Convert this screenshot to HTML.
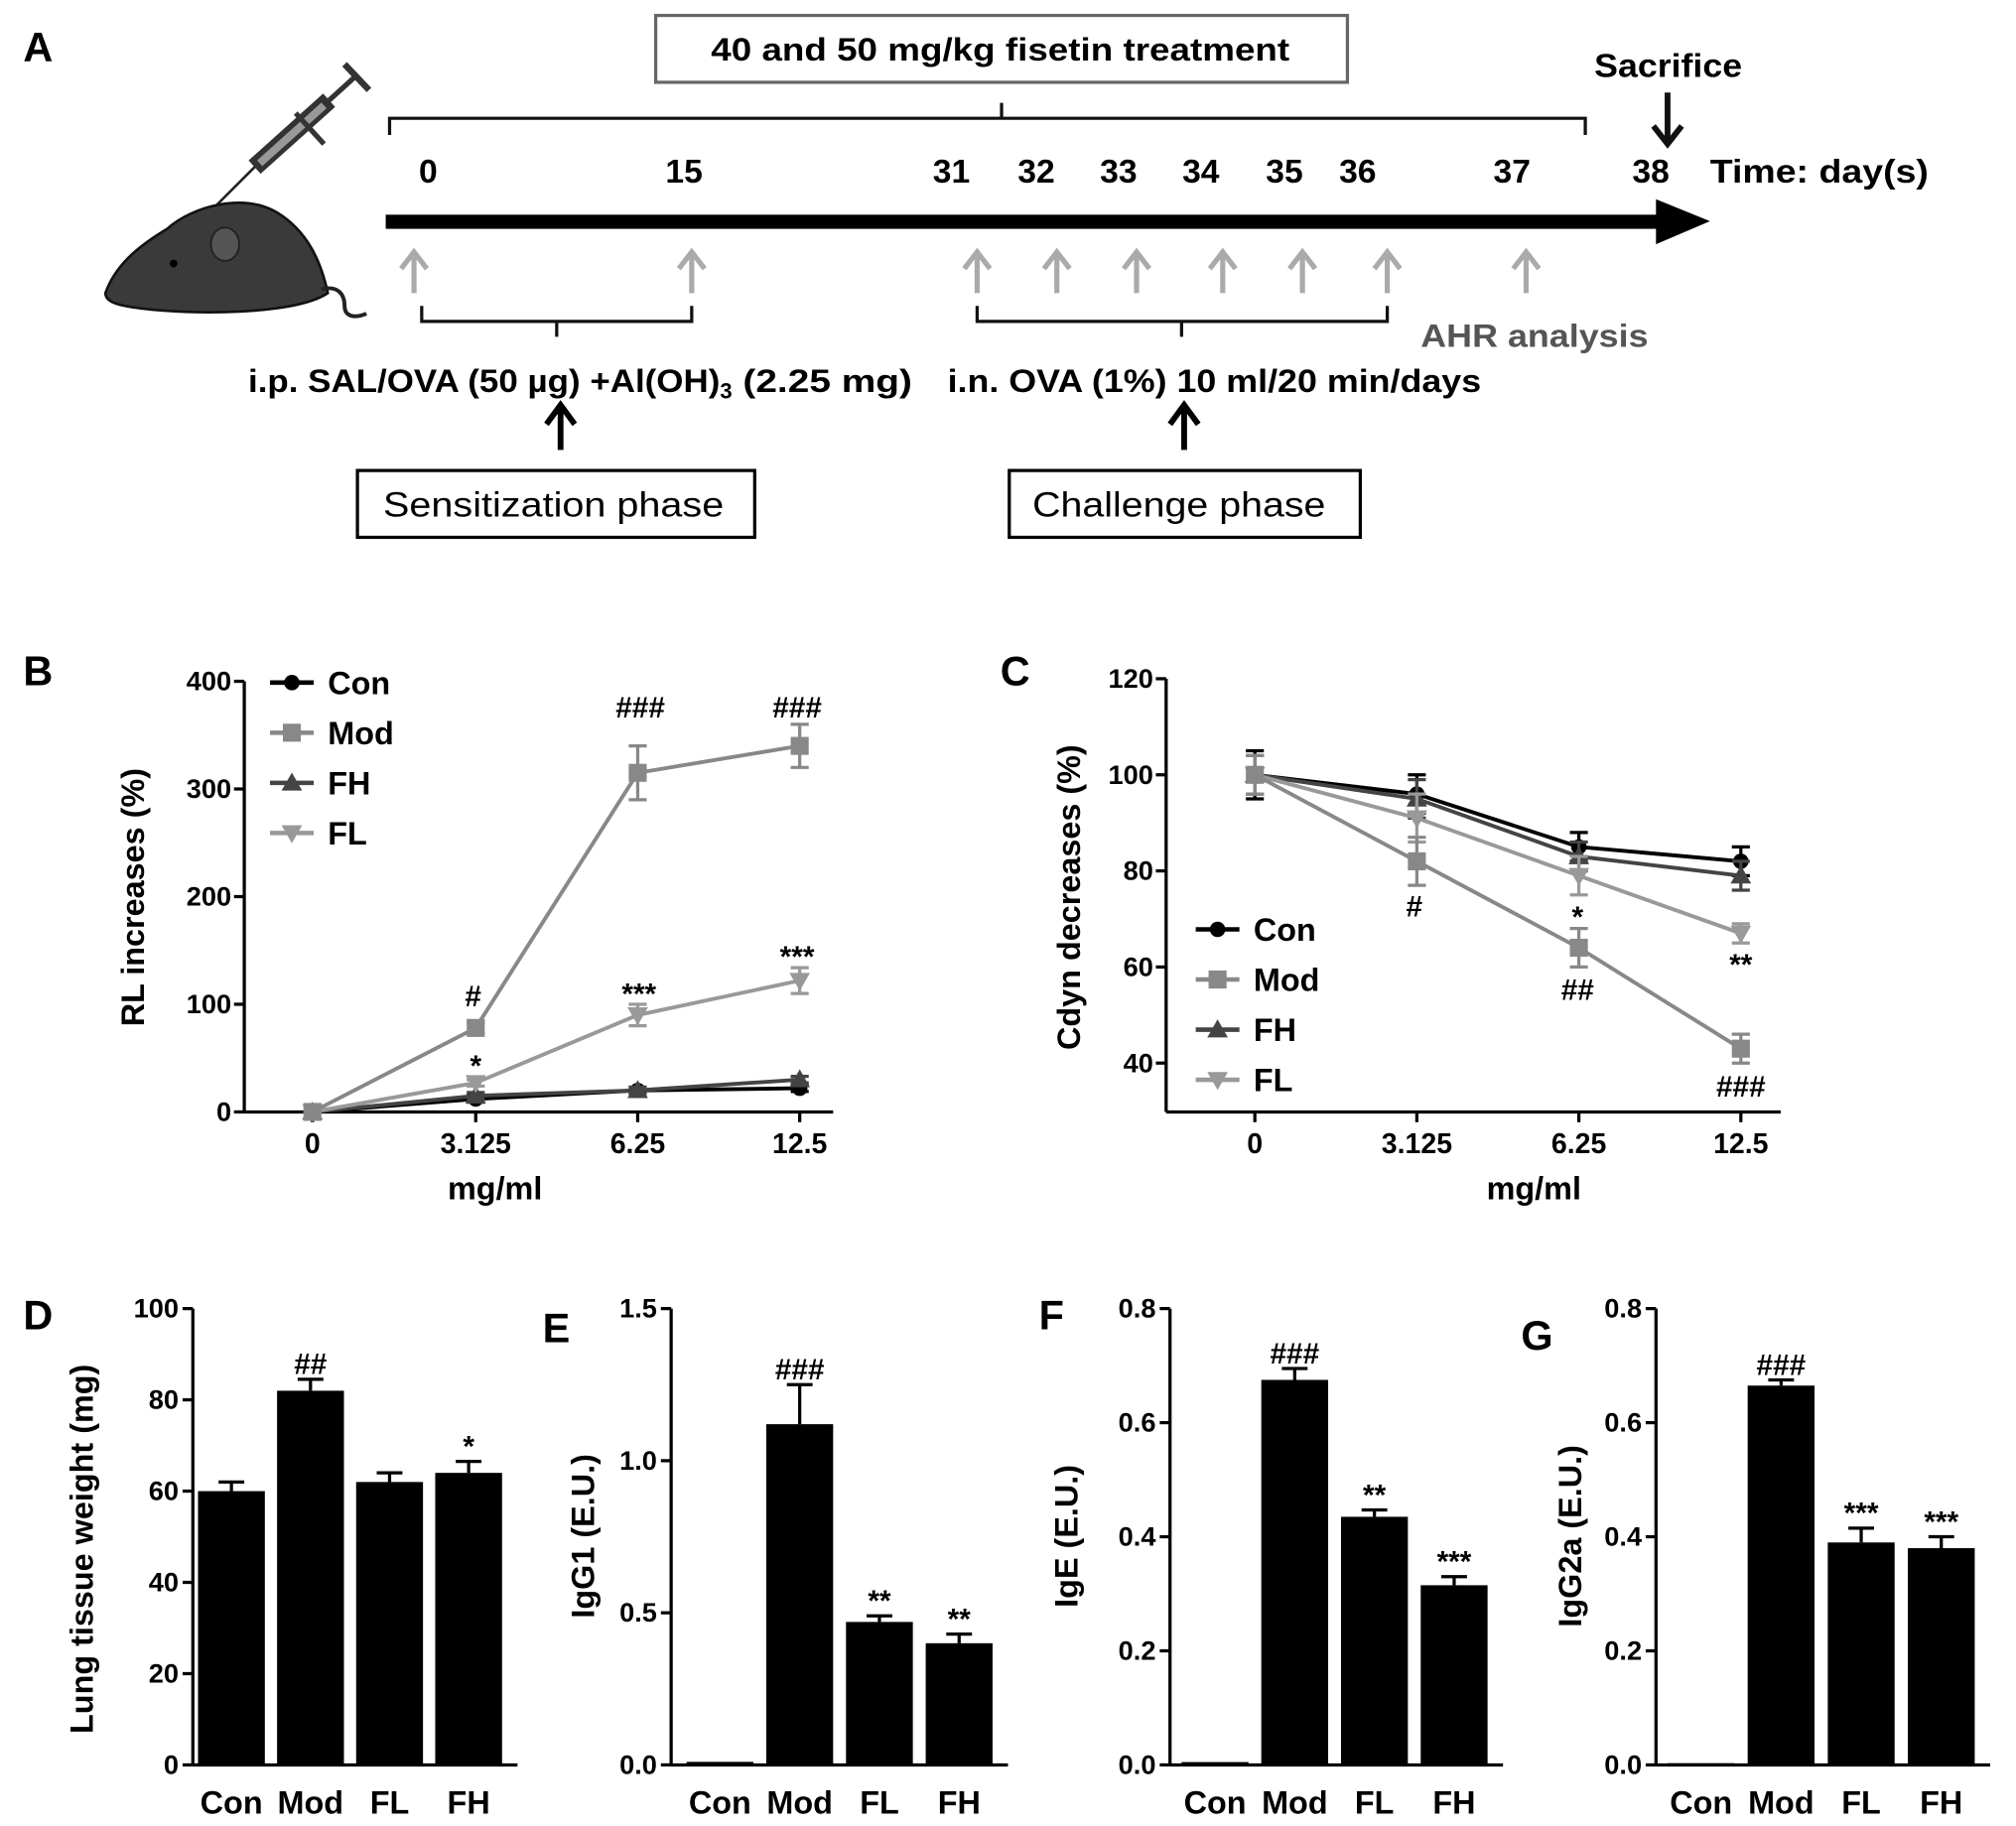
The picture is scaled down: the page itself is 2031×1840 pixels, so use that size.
<!DOCTYPE html>
<html><head><meta charset="utf-8"><style>
html,body{margin:0;padding:0;background:#fff}
svg{display:block}
text{font-family:"Liberation Sans",Arial,sans-serif;font-weight:bold}
</style></head><body>
<svg id="fig" width="2031" height="1840" viewBox="0 0 1568 1420.5" xmlns="http://www.w3.org/2000/svg">
<g id="panelA">
<text x="18" y="48" font-size="32">A</text>
<g>
<line x1="200" y1="128" x2="160" y2="168" stroke="#222" stroke-width="2"/>
<line x1="198" y1="130" x2="256" y2="78" stroke="#333" stroke-width="14"/>
<line x1="202" y1="127" x2="252" y2="82" stroke="#999" stroke-width="6"/>
<line x1="256" y1="78" x2="278" y2="58" stroke="#333" stroke-width="4"/>
<line x1="268" y1="50" x2="287" y2="70" stroke="#333" stroke-width="5"/>
<line x1="230" y1="88" x2="252" y2="112" stroke="#333" stroke-width="4"/>
</g>
<g>
<path d="M82 228 C90 205,110 190,130 178 C150 160,190 150,215 165 C240 180,250 205,255 228 C230 245,150 245,110 240 C95 238,82 236,82 228Z" fill="#3a3a3a" stroke="#111" stroke-width="2"/>
<ellipse cx="175" cy="190" rx="11" ry="13" fill="#555" stroke="#222" stroke-width="1.5"/>
<circle cx="135" cy="205" r="3" fill="#000"/>
<path d="M250 225 C262 222,268 228,268 238 C268 246,275 248,285 244" fill="none" stroke="#222" stroke-width="3"/>
</g>
<rect x="510" y="12" width="538" height="52" fill="#fff" stroke="#666" stroke-width="2.5"/>
<text x="553" y="47" font-size="25" textLength="450" lengthAdjust="spacingAndGlyphs">40 and 50 mg/kg fisetin treatment</text>
<path d="M303 105 V92 H1233 V105 M779 92 V80" fill="none" stroke="#111" stroke-width="2.5"/>
<text x="1240" y="60" font-size="26" textLength="115" lengthAdjust="spacingAndGlyphs">Sacrifice</text>
<path d="M1297 72 V110 M1286 98 L1297 112 L1308 98" fill="none" stroke="#111" stroke-width="4.5"/>
<g id="days" font-size="26" text-anchor="middle"></g>
<text x="1330" y="142" font-size="26" textLength="170" lengthAdjust="spacingAndGlyphs">Time: day(s)</text>
<rect x="300" y="167" width="990" height="11" fill="#000"/>
<polygon points="1288,155 1330,172 1288,190" fill="#000"/>
<g id="grayArrows"></g>
<path d="M328 238 V250 H538 V238 M433 250 V262" fill="none" stroke="#111" stroke-width="2.5"/>
<path d="M760 238 V250 H1079 V238 M919 250 V262" fill="none" stroke="#111" stroke-width="2.5"/>
<text x="1105" y="270" font-size="25" fill="#555" textLength="177" lengthAdjust="spacingAndGlyphs">AHR analysis</text>
<text x="193" y="305" font-size="25"><tspan textLength="367" lengthAdjust="spacingAndGlyphs">i.p. SAL/OVA (50 µg) +Al(OH)</tspan><tspan font-size="17" dy="5">3</tspan><tspan dy="-5" textLength="140" lengthAdjust="spacingAndGlyphs"> (2.25 mg)</tspan></text>
<text x="737" y="305" font-size="25" textLength="415" lengthAdjust="spacingAndGlyphs">i.n. OVA (1%) 10 ml/20 min/days</text>
<path d="M436 350 V318 M425 330 L436 315 L447 330" fill="none" stroke="#000" stroke-width="4.5"/>
<path d="M921 350 V318 M910 330 L921 315 L932 330" fill="none" stroke="#000" stroke-width="4.5"/>
<rect x="278" y="366" width="309" height="52" fill="#fff" stroke="#000" stroke-width="2.5"/>
<text x="298" y="402" font-size="27" style="font-weight:normal" textLength="265" lengthAdjust="spacingAndGlyphs">Sensitization phase</text>
<rect x="785" y="366" width="273" height="52" fill="#fff" stroke="#000" stroke-width="2.5"/>
<text x="803" y="402" font-size="27" style="font-weight:normal" textLength="228" lengthAdjust="spacingAndGlyphs">Challenge phase</text>
</g>
<g id="charts"></g>
</svg>
<script>
// timeline data
const dayLabels=["0","15","31","32","33","34","35","36","37","38"];
const dayPos=[333,532,740,806,870,934,999,1056,1176,1284];
const arrowPos=[322,538,760,822,884,951,1013,1079,1187];

// panel B data
const lineCats=["0","3.125","6.25","12.5"];
const seriesNames=["Con","Mod","FH","FL"];
const bCon=[0,12,20,22], bMod=[0,78,315,340], bFH=[0,15,20,30], bFL=[0,27,90,122];
const bModErr=[0,5,25,20], bFLErr=[0,3,10,12], bConErr=[0,3,3,3], bFHErr=[0,3,3,3];
const bTicks=[0,100,200,300,400];
// panel C data
const cCon=[100,96,85,82], cMod=[100,82,64,43], cFH=[100,95,83,79], cFL=[100,91,79,67];
const cConErr=[5,4,3,3], cModErr=[4,5,4,3], cFHErr=[4,4,3,3], cFLErr=[4,5,4,2];
const cTicks=[40,60,80,100,120];
// bar panels data
const barCats=["Con","Mod","FL","FH"];
const dVals=[60,82,62,64], dErr=[2,2.5,2,2.5], dStars=["","##","","*"], dTicks=[0,20,40,60,80,100];
const eVals=[0.01,1.12,0.47,0.40], eErr=[0,0.13,0.02,0.03], eStars=["","###","**","**"], eTicks=[0,0.5,1.0,1.5];
const fVals=[0.005,0.675,0.435,0.315], fErr=[0,0.02,0.012,0.015], fStars=["","###","**","***"], fTicks=[0,0.2,0.4,0.6,0.8];
const gVals=[0.003,0.665,0.39,0.38], gErr=[0,0.01,0.025,0.02], gStars=["","###","***","***"], gTicks=[0,0.2,0.4,0.6,0.8];

const NS="http://www.w3.org/2000/svg";
function mk(parent,tag,attrs,txt){const e=document.createElementNS(NS,tag);for(const k in attrs)e.setAttribute(k,attrs[k]);if(txt!==undefined)e.textContent=txt;parent.appendChild(e);return e;}

const daysG=document.getElementById('days');
dayLabels.forEach((d,i)=>{const t=mk(daysG,'text',{x:dayPos[i],y:142},d);

});
const ga=document.getElementById('grayArrows');
arrowPos.forEach((x,i)=>{const p=mk(ga,'path',{d:`M${x} 228 V197 M${x-10} 209 L${x} 196 L${x+10} 209`,fill:'none',stroke:'#aaa','stroke-width':4});

});

const charts=document.getElementById('charts');
function fmt(v){return Number.isInteger(v)?String(v):(v.toFixed(1));}

function lineChart(o){
  const g=mk(charts,'g',{});
  
  
  const ys=v=>o.y0-(v-o.vmin)/(o.vmax-o.vmin)*(o.y0-o.y1);
  const xs=i=>o.xc[i];
  mk(g,'line',{x1:o.ax,y1:o.y1,x2:o.ax,y2:o.axisBottom,stroke:'#000','stroke-width':2.5});
  mk(g,'line',{x1:o.ax,y1:o.axisBottom,x2:o.xEnd,y2:o.axisBottom,stroke:'#000','stroke-width':2.5});
  o.ticks.forEach(t=>{mk(g,'line',{x1:o.ax-8,y1:ys(t),x2:o.ax,y2:ys(t),stroke:'#000','stroke-width':2.5});
    const tl=mk(g,'text',{x:o.ax-10,y:ys(t)+7,'font-size':21,'text-anchor':'end'},fmt(t));
    
    });
  lineCats.forEach((c,i)=>{mk(g,'line',{x1:xs(i),y1:o.axisBottom,x2:xs(i),y2:o.axisBottom+8,stroke:'#000','stroke-width':2.5});
    const tl=mk(g,'text',{x:xs(i),y:o.axisBottom+32,'font-size':22,'text-anchor':'middle'},c);
    
    });
  const xt=mk(g,'text',{x:o.xTitleX,y:o.axisBottom+68,'font-size':25,'text-anchor':'middle'},'mg/ml');
  
  
  const yt=mk(g,'text',{x:0,y:0,'font-size':25,'text-anchor':'middle',transform:`translate(${o.yTitleX},${o.yTitleY}) rotate(-90)`},o.yTitle);
  
  
  const colors={Con:'#000',Mod:'#888',FH:'#444',FL:'#999'};
  o.series.forEach((s,si)=>{
    const sg=mk(g,'g',{});
    
    
    const col=colors[s.n];
    mk(sg,'polyline',{points:s.v.map((v,i)=>xs(i)+','+ys(v)).join(' '),fill:'none',stroke:col,'stroke-width':3});
    s.v.forEach((v,i)=>{
      const e=s.e[i];
      mk(sg,'path',{d:`M${xs(i)} ${ys(v+e)} V${ys(v-e)} M${xs(i)-7} ${ys(v+e)} H${xs(i)+7} M${xs(i)-7} ${ys(v-e)} H${xs(i)+7}`,stroke:col,'stroke-width':2.5,fill:'none'});
      marker(sg,s.n,xs(i),ys(v),col);
    });
  });
  seriesNames.forEach((n,i)=>{
    const ly=o.legY+i*o.legDy;
    const lg=mk(g,'g',{});
    
    
    mk(lg,'line',{x1:o.legX,y1:ly,x2:o.legX+34,y2:ly,stroke:colors[n],'stroke-width':3.5});
    marker(lg,n,o.legX+17,ly,colors[n]);
    mk(lg,'text',{x:o.legX+45,y:ly+9,'font-size':25},n);
  });
  o.notes.forEach(a=>{const t=mk(g,'text',{x:a[0],y:a[1],'font-size':23,'text-anchor':'middle'},a[2]);
    
    });
}
function marker(p,n,x,y,c){
  if(n==='Con')mk(p,'circle',{cx:x,cy:y,r:6,fill:c});
  else if(n==='Mod')mk(p,'rect',{x:x-7,y:y-7,width:14,height:14,fill:c});
  else if(n==='FH')mk(p,'polygon',{points:`${x},${y-8} ${x+8},${y+6} ${x-8},${y+6}`,fill:c});
  else mk(p,'polygon',{points:`${x-8},${y-6} ${x+8},${y-6} ${x},${y+8}`,fill:c});
}

lineChart({name:'panel-b-rl-chart',ax:190,y0:865,y1:530,vmin:0,vmax:400,axisBottom:865,xEnd:648,xc:[243,370,496,622],ticks:bTicks,
 xTitleX:385,yTitle:'RL increases (%)',yTitleX:112,yTitleY:698,
 series:[{n:'Con',v:bCon,e:bConErr},{n:'FH',v:bFH,e:bFHErr},{n:'FL',v:bFL,e:bFLErr},{n:'Mod',v:bMod,e:bModErr}],
 legX:210,legY:531,legDy:39,
 notes:[[368,783,'#'],[498,558,'###'],[620,558,'###'],[370,837,'*'],[497,781,'***'],[620,752,'***']]});
lineChart({name:'panel-c-cdyn-chart',ax:907,y0:827,y1:528,vmin:40,vmax:120,axisBottom:865,xEnd:1385,xc:[976,1102,1228,1354],ticks:cTicks,
 xTitleX:1193,yTitle:'Cdyn decreases (%)',yTitleX:840,yTitleY:698,
 series:[{n:'Con',v:cCon,e:cConErr},{n:'FH',v:cFH,e:cFHErr},{n:'FL',v:cFL,e:cFLErr},{n:'Mod',v:cMod,e:cModErr}],
 legX:930,legY:723,legDy:39,
 notes:[[1100,713,'#'],[1227,721,'*'],[1227,778,'##'],[1354,758,'**'],[1354,853,'###']]});

function barChart(o){
  const g=mk(charts,'g',{});
  
  
  const y0=1373,y1=1018,vmax=o.ticks[o.ticks.length-1];
  const ys=v=>y0-v/vmax*(y0-y1);
  const xs=i=>o.x0+i*o.step;
  mk(g,'line',{x1:o.ax,y1:y1,x2:o.ax,y2:y0,stroke:'#000','stroke-width':2.5});
  mk(g,'line',{x1:o.ax,y1:y0,x2:xs(3)+38,y2:y0,stroke:'#000','stroke-width':2.5});
  o.ticks.forEach(t=>{mk(g,'line',{x1:o.ax-8,y1:ys(t),x2:o.ax,y2:ys(t),stroke:'#000','stroke-width':2.5});
    const tl=mk(g,'text',{x:o.ax-11,y:ys(t)+7,'font-size':21,'text-anchor':'end'},o.dec?t.toFixed(1):String(t));
    
    });
  o.vals.forEach((v,i)=>{
    const b=mk(g,'rect',{x:xs(i)-26,y:ys(v),width:52,height:y0-ys(v),fill:'#000'});
    
    
    const e=o.err[i];
    if(e>0)mk(g,'path',{d:`M${xs(i)} ${ys(v)} V${ys(v+e)} M${xs(i)-10} ${ys(v+e)} H${xs(i)+10}`,stroke:'#000','stroke-width':2.5,fill:'none'});
    const cl=mk(g,'text',{x:xs(i),y:1411,'font-size':25,'text-anchor':'middle'},barCats[i]);
    
    
    if(o.stars[i]){const s=mk(g,'text',{x:xs(i),y:ys(v+e)-4,'font-size':23,'text-anchor':'middle'},o.stars[i]);
      
      }
  });
  const yt=mk(g,'text',{x:0,y:0,'font-size':25,'text-anchor':'middle',transform:`translate(${o.ytx},${o.yty}) rotate(-90)`},o.ytitle);
  
  
  const L=mk(g,'text',{x:o.lx,y:o.ly,'font-size':32},o.letter);
  
  
}
barChart({name:'panel-d-lung-weight',ax:150,x0:180,step:61.5,vals:dVals,err:dErr,stars:dStars,ticks:dTicks,dec:false,ytitle:'Lung tissue weight (mg)',ytx:72,yty:1205,letter:'D',lx:18,ly:1034});
barChart({name:'panel-e-igg1',ax:522,x0:560,step:62,vals:eVals,err:eErr,stars:eStars,ticks:eTicks,dec:true,ytitle:'IgG1 (E.U.)',ytx:462,yty:1195,letter:'E',lx:422,ly:1044});
barChart({name:'panel-f-ige',ax:910,x0:945,step:62,vals:fVals,err:fErr,stars:fStars,ticks:fTicks,dec:true,ytitle:'IgE (E.U.)',ytx:838,yty:1195,letter:'F',lx:808,ly:1034});
barChart({name:'panel-g-igg2a',ax:1288,x0:1323,step:62.3,vals:gVals,err:gErr,stars:gStars,ticks:gTicks,dec:true,ytitle:'IgG2a (E.U.)',ytx:1230,yty:1195,letter:'G',lx:1183,ly:1050});
const lb=mk(charts,'text',{x:18,y:533,'font-size':32},'B');


const lc=mk(charts,'text',{x:778,y:533,'font-size':32},'C');


</script>
</body></html>
